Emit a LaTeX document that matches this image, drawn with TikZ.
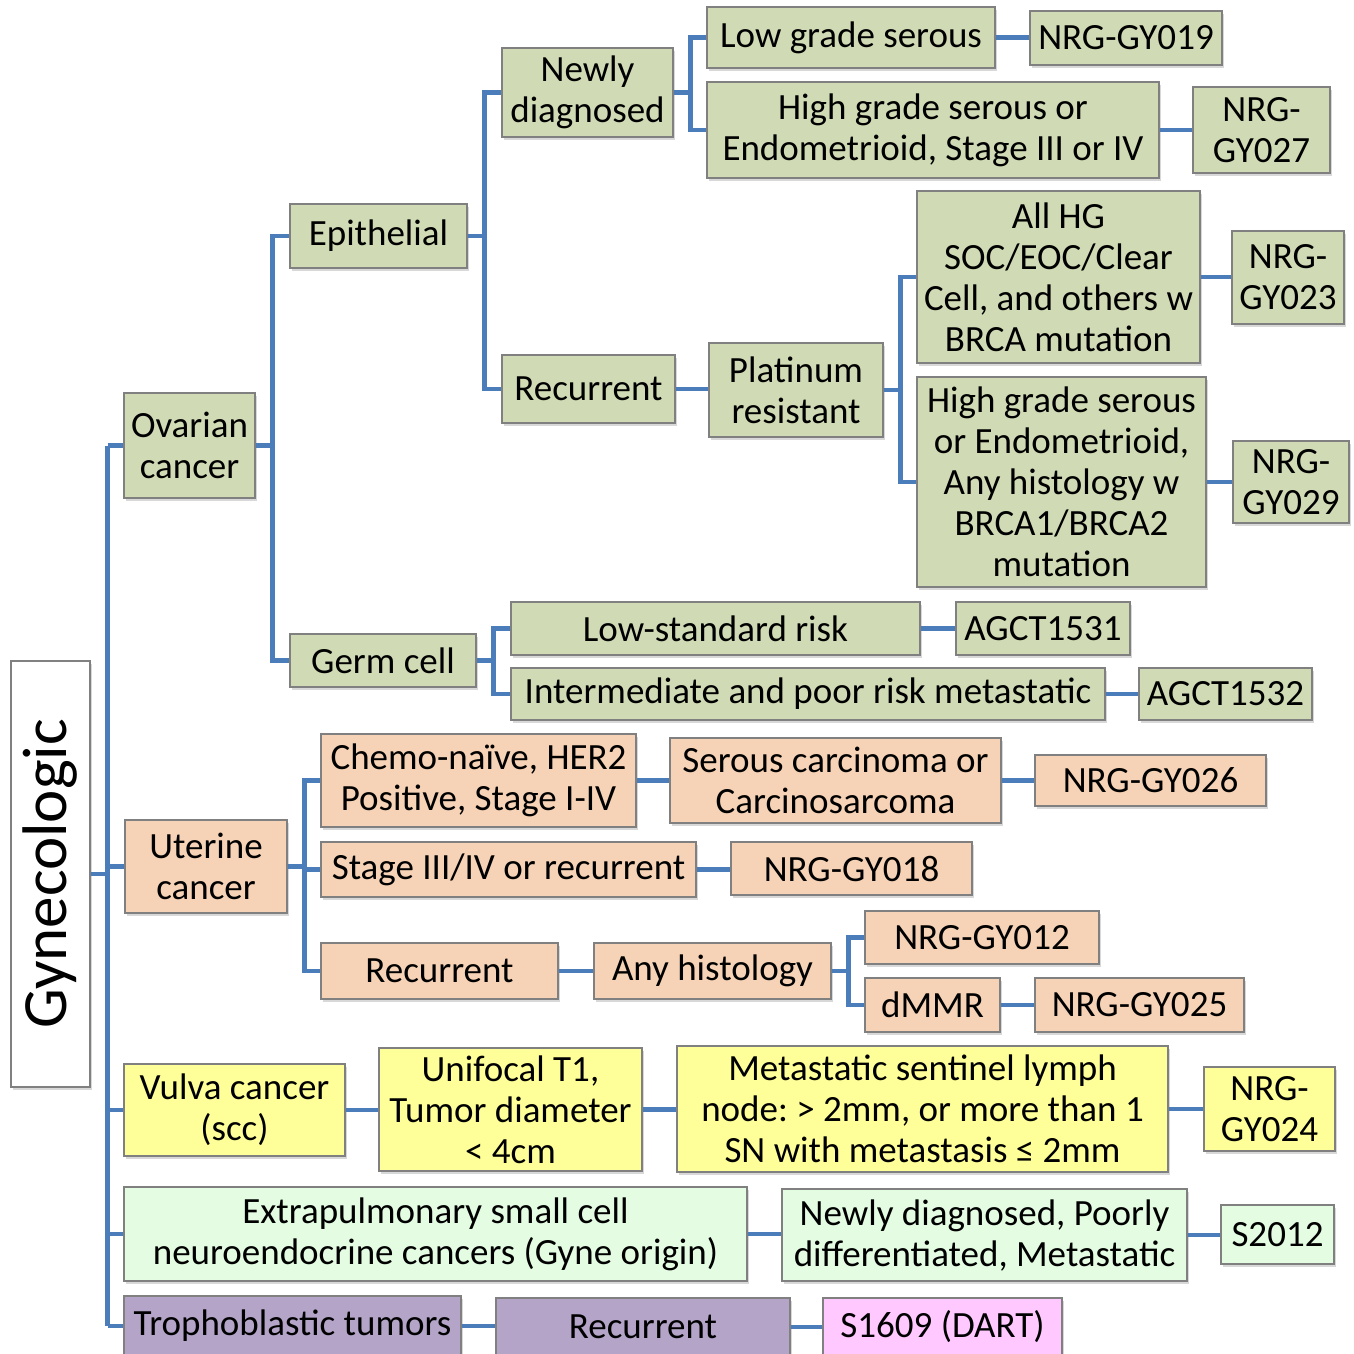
\documentclass[tikz,border=0pt]{standalone}
\usepackage{fontspec}
\setmainfont{Carlito}
\frenchspacing
\usetikzlibrary{shadows,calc}
\definecolor{ovg}{RGB}{208,219,181}
\definecolor{uto}{RGB}{246,211,182}
\definecolor{vuy}{RGB}{255,255,153}
\definecolor{exg}{RGB}{228,252,226}
\definecolor{trp}{RGB}{179,164,200}
\definecolor{pnk}{RGB}{255,200,255}
\definecolor{lnb}{RGB}{74,125,185}
\definecolor{bdr}{RGB}{128,128,128}
\tikzset{
  box/.style={draw=bdr, line width=1.2pt, inner sep=0pt, align=center,
    font=\fontsize{37}{41}\selectfont,
    drop shadow={opacity=0.3, shadow xshift=2pt, shadow yshift=-3pt}},
  ov/.style={box, fill=ovg},
  ut/.style={box, fill=uto},
  vu/.style={box, fill=vuy},
  ex/.style={box, fill=exg},
  tr/.style={box, fill=trp},
  pk/.style={box, fill=pnk},
  gy/.style={box, fill=white},
  conn/.style={draw=lnb, line width=4.5pt}
}
\newcommand\bx[7]{\node[#2, minimum width={#5-#3}, minimum height={#6-#4}] (#1) at ({(#3+#5)/2},{(#4+#6)/2+2}) {#7};}
\begin{document}
\begin{tikzpicture}[x=1pt,y=-1pt]
\useasboundingbox[fill=white] (0,0) rectangle (1354,1353);
% boxes
\bx{gyn}{gy}{11}{659}{90}{1085}{}
\node[rotate=90, font=\fontsize{63}{70}\selectfont] (gyntxt) at (gyn.center) {Gynecologic};
\bx{ovar}{ov}{124}{391}{255}{496}{Ovarian\\cancer}
\bx{epi}{ov}{290}{202}{467}{266}{Epithelial}
\bx{germ}{ov}{290}{632}{476}{685}{Germ cell}
\bx{newly}{ov}{502}{46}{673}{135}{Newly\\diagnosed}
\bx{orec}{ov}{502}{353}{675}{421}{Recurrent}
\bx{plat}{ov}{709}{341}{883}{435}{Platinum\\resistant}
\bx{lgs}{ov}{707}{5}{995}{66}{Low grade serous}
\bx{hgs}{ov}{707}{80}{1159}{176}{High grade serous or\\Endometrioid, Stage III or IV}
\bx{gyA}{ov}{1030}{9}{1222}{63}{NRG-GY019}
\bx{gyB}{ov}{1193}{85}{1330}{171}{NRG-\\GY027}
\bx{allhg}{ov}{917}{189}{1200}{361}{All HG\\SOC/EOC/Clear\\Cell, and others w\\BRCA mutation}
\bx{gyC}{ov}{1232}{229}{1344}{322}{NRG-\\GY023}
\bx{hgsb}{ov}{917}{375}{1206}{585}{High grade serous\\or Endometrioid,\\Any histology w\\BRCA1/BRCA2\\mutation}
\bx{gyD}{ov}{1233}{439}{1349}{521}{NRG-\\GY029}
\bx{lsr}{ov}{511}{600}{920}{653}{Low-standard risk}
\bx{ipr}{ov}{511}{666}{1105}{718}{Intermediate and poor risk metastatic}
\bx{agA}{ov}{956}{600}{1130}{653}{AGCT1531}
\bx{agB}{ov}{1139}{666}{1312}{718}{AGCT1532}
\bx{ute}{ut}{125}{818}{287}{911}{Uterine\\cancer}
\bx{chemo}{ut}{321}{732}{636}{825}{Chemo-naïve, HER2\\Positive, Stage I-IV}
\bx{serous}{ut}{670}{736}{1001}{821}{Serous carcinoma or\\Carcinosarcoma}
\bx{gyE}{ut}{1035}{753}{1266}{804}{NRG-GY026}
\bx{stage}{ut}{321}{840}{696}{895}{Stage III/IV or recurrent}
\bx{gyF}{ut}{731}{840}{972}{893}{NRG-GY018}
\bx{urec}{ut}{321}{941}{558}{997}{Recurrent}
\bx{anyh}{ut}{594}{941}{831}{997}{Any histology}
\bx{gyG}{ut}{865}{909}{1099}{962}{NRG-GY012}
\bx{dmmr}{ut}{865}{976}{1000}{1030}{dMMR}
\bx{gyH}{ut}{1035}{976}{1244}{1030}{NRG-GY025}
\bx{vulva}{vu}{124}{1062}{345}{1154}{Vulva cancer\\(scc)}
\bx{unif}{vu}{379}{1046}{642}{1169}{Unifocal T1,\\Tumor diameter\\< 4cm}
\bx{meta}{vu}{677}{1044}{1168}{1170}{Metastatic sentinel lymph\\node: > 2mm, or more than 1\\SN with metastasis ≤ 2mm}
\bx{gyI}{vu}{1204}{1065}{1335}{1149}{NRG-\\GY024}
\bx{extra}{ex}{124}{1185}{747}{1279}{Extrapulmonary small cell\\neuroendocrine cancers (Gyne origin)}
\bx{newpd}{ex}{782}{1187}{1187}{1279}{Newly diagnosed, Poorly\\differentiated, Metastatic}
\bx{sA}{ex}{1221}{1203}{1334}{1262}{S2012}
\bx{troph}{tr}{124}{1294}{461}{1354}{Trophoblastic tumors}
\bx{trec}{tr}{496}{1296}{790}{1354}{Recurrent}
\bx{sB}{pk}{823}{1296}{1062}{1354}{S1609 (DART)}
% connectors
\coordinate (gt) at ($(gyn.east)+(17,0)$);
\draw[conn] (gyn.east) -- (gt);
\draw[conn] (gt |- ovar.west) -- (gt |- troph.west);
\foreach \c in {ovar,ute,vulva,extra,troph}{\draw[conn] (gt |- \c.west) -- (\c.west);}
\foreach \a/\b in {ovar/epi,ovar/germ,epi/newly,epi/orec,newly/lgs,newly/hgs,plat/allhg,plat/hgsb,germ/lsr,germ/ipr,ute/chemo,ute/stage,ute/urec,anyh/gyG,anyh/dmmr}{\draw[conn] (\a.east) -- ++(17,0) |- (\b.west);}
\foreach \a/\b in {orec/plat,lgs/gyA,hgs/gyB,allhg/gyC,hgsb/gyD,lsr/agA,ipr/agB,chemo/serous,serous/gyE,stage/gyF,urec/anyh,dmmr/gyH,vulva/unif,unif/meta,meta/gyI,extra/newpd,newpd/sA,troph/trec,trec/sB}{\draw[conn] (\a.east) -- (\a.east -| \b.west);}
\end{tikzpicture}
\end{document}
